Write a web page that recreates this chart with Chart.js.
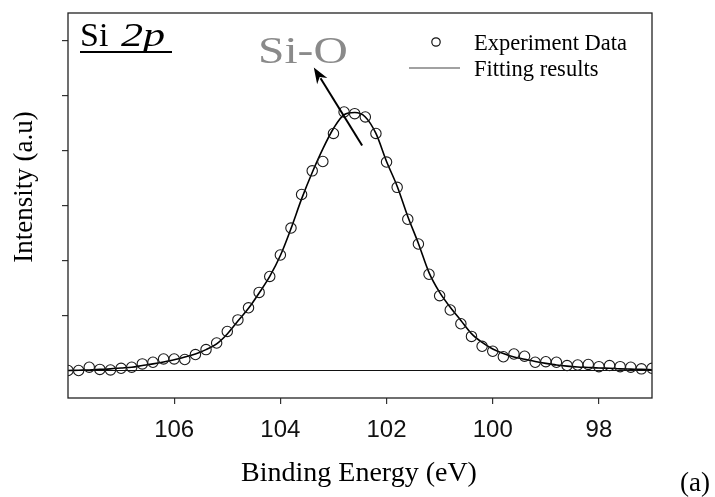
<!DOCTYPE html>
<html>
<head>
<meta charset="utf-8">
<script src="https://cdn.jsdelivr.net/npm/chart.js@4.4.0/dist/chart.umd.min.js"></script>
<style>
  html, body { margin: 0; padding: 0; background: #fff; }
  #wrap { width: 715px; height: 497px; }
</style>
</head>
<body>
<div id="wrap"><canvas id="myChart" width="715" height="497"></canvas></div>
<script>
// binding energy (eV), one sample every 0.2 eV
var energies = [108.0, 107.8, 107.6, 107.4, 107.2, 107.0, 106.8, 106.6, 106.4, 106.2,
    106.0, 105.8, 105.6, 105.4, 105.2, 105.0, 104.8, 104.6, 104.4, 104.2,
    104.0, 103.8, 103.6, 103.4, 103.2, 103.0, 102.8, 102.6, 102.4, 102.2,
    102.0, 101.8, 101.6, 101.4, 101.2, 101.0, 100.8, 100.6, 100.4, 100.2,
    100.0, 99.8, 99.6, 99.4, 99.2, 99.0, 98.8, 98.6, 98.4, 98.2,
    98.0, 97.8, 97.6, 97.4, 97.2, 97.0];

var experiment = [0.00, 0.00, 0.06, 0.02, 0.01, 0.04, 0.06, 0.12, 0.15, 0.21,
    0.21, 0.20, 0.29, 0.38, 0.50, 0.71, 0.92, 1.14, 1.42, 1.71,
    2.10, 2.59, 3.20, 3.63, 3.80, 4.31, 4.70, 4.67, 4.61, 4.31,
    3.79, 3.33, 2.75, 2.30, 1.75, 1.36, 1.10, 0.85, 0.62, 0.44,
    0.35, 0.25, 0.30, 0.26, 0.15, 0.16, 0.15, 0.09, 0.10, 0.11,
    0.07, 0.09, 0.07, 0.06, 0.03, 0.04];

var fitting = [0.00, 0.005, 0.01, 0.02, 0.03, 0.045, 0.06, 0.09, 0.12, 0.155,
    0.195, 0.245, 0.30, 0.38, 0.485, 0.665, 0.90, 1.13, 1.41, 1.71,
    2.09, 2.58, 3.12, 3.60, 4.03, 4.40, 4.65, 4.69, 4.61, 4.31,
    3.80, 3.35, 2.80, 2.31, 1.78, 1.42, 1.15, 0.91, 0.67, 0.51,
    0.39, 0.31, 0.245, 0.205, 0.165, 0.13, 0.10, 0.08, 0.065, 0.055,
    0.045, 0.04, 0.03, 0.025, 0.02, 0.013];

var xTicks = [98, 100, 102, 104, 106];
var yTicks = [1, 2, 3, 4, 5, 6];
var baselineEnds = [108, 97];

// Si-O arrow, in data units (tail -> head)
var arrowFrom = { x: 102.46, y: 4.09 };
var arrowTo = { x: 103.37, y: 5.51 };

var serif = '"Liberation Serif", "Times New Roman", serif';
var sans = '"Liberation Sans", Arial, sans-serif';

function toPoints(xs, ys) {
    return xs.map(function (x, i) { return { x: x, y: ys[i] }; });
}

var decorations = {
    id: 'decorations',
    afterDraw: function (chart) {
        var ctx = chart.ctx;
        var a = chart.chartArea;
        var sx = chart.scales.x, sy = chart.scales.y;
        ctx.save();

        // frame
        ctx.strokeStyle = '#222';
        ctx.lineWidth = 1.3;
        ctx.strokeRect(a.left, a.top, a.right - a.left, a.bottom - a.top);

        ctx.fillStyle = '#000';
        // axis titles
        ctx.font = '28px ' + serif;
        ctx.textAlign = 'center';
        ctx.textBaseline = 'alphabetic';
        ctx.fillText('Binding Energy (eV)', 359, 481);

        ctx.save();
        ctx.translate(25, 187);
        ctx.rotate(-Math.PI / 2);
        ctx.font = '27px ' + serif;
        ctx.textBaseline = 'middle';
        ctx.fillText('Intensity (a.u)', 0, 0);
        ctx.restore();

        ctx.font = '27px ' + serif;
        ctx.fillText('(a)', 695, 491);

        // panel label, underlined
        ctx.textAlign = 'left';
        ctx.font = '34px ' + serif;
        ctx.fillText('Si', 80, 46);
        ctx.save();
        ctx.translate(121, 46);
        ctx.scale(1.3, 1);
        ctx.font = 'italic 34px ' + serif;
        ctx.fillText('2p', 0, 0);
        ctx.restore();
        ctx.fillRect(80, 51, 92, 2);

        // Si-O annotation
        ctx.save();
        ctx.translate(258, 63);
        ctx.scale(1.25, 1);
        ctx.fillStyle = '#8a8a8a';
        ctx.font = '38px ' + serif;
        ctx.fillText('Si-O', 0, 0);
        ctx.restore();

        var x0 = sx.getPixelForValue(arrowFrom.x), y0 = sy.getPixelForValue(arrowFrom.y);
        var x1 = sx.getPixelForValue(arrowTo.x), y1 = sy.getPixelForValue(arrowTo.y);
        var ang = Math.atan2(y1 - y0, x1 - x0);
        var hl = 16, hw = 6;
        ctx.strokeStyle = '#000';
        ctx.lineWidth = 2;
        ctx.beginPath();
        ctx.moveTo(x0, y0);
        ctx.lineTo(x1 - Math.cos(ang) * hl * 0.8, y1 - Math.sin(ang) * hl * 0.8);
        ctx.stroke();
        ctx.beginPath();
        ctx.moveTo(x1, y1);
        ctx.lineTo(x1 - Math.cos(ang) * hl + Math.sin(ang) * hw, y1 - Math.sin(ang) * hl - Math.cos(ang) * hw);
        ctx.lineTo(x1 - Math.cos(ang) * hl * 0.7, y1 - Math.sin(ang) * hl * 0.7);
        ctx.lineTo(x1 - Math.cos(ang) * hl - Math.sin(ang) * hw, y1 - Math.sin(ang) * hl + Math.cos(ang) * hw);
        ctx.closePath();
        ctx.fillStyle = '#000';
        ctx.fill();

        // legend
        ctx.lineWidth = 1.2;
        ctx.strokeStyle = '#111';
        ctx.beginPath();
        ctx.arc(436, 42, 4.2, 0, Math.PI * 2);
        ctx.stroke();
        ctx.strokeStyle = '#444';
        ctx.beginPath();
        ctx.moveTo(409, 68);
        ctx.lineTo(460, 68);
        ctx.stroke();
        ctx.fillStyle = '#000';
        ctx.font = '22.5px ' + serif;
        ctx.fillText('Experiment Data', 474, 50);
        ctx.fillText('Fitting results', 474, 76);

        ctx.restore();
    }
};

var data = {
    datasets: [{
        label: 'baseline',
        data: toPoints(baselineEnds, [0, 0]),
        showLine: true,
        borderColor: '#111',
        borderWidth: 1.2,
        pointRadius: 0,
        order: 3
    }, {
        label: 'Fitting results',
        data: toPoints(energies, fitting),
        showLine: true,
        borderColor: '#000',
        borderWidth: 1.6,
        cubicInterpolationMode: 'monotone',
        pointRadius: 0,
        order: 2
    }, {
        label: 'Experiment Data',
        data: toPoints(energies, experiment),
        showLine: false,
        pointRadius: 5.2,
        pointBorderWidth: 1.1,
        pointBorderColor: '#1a1a1a',
        pointBackgroundColor: 'rgba(0,0,0,0)',
        order: 1
    }]
};

var canvas = document.getElementById('myChart');
var myChart = new Chart(canvas.getContext('2d'), {
    type: 'scatter',
    data: data,
    plugins: [decorations],
    options: {
        responsive: false,
        animation: false,
        layout: { padding: { top: 13, right: 63, left: 0, bottom: 0 } },
        plugins: {
            legend: { display: false },
            tooltip: { enabled: false }
        },
        scales: {
            x: {
                type: 'linear',
                reverse: true,
                min: 97,
                max: 108,
                afterBuildTicks: function (s) {
                    s.ticks = xTicks.map(function (v) { return { value: v }; });
                },
                afterFit: function (s) { s.height = 99; },
                border: { display: false },
                grid: { drawOnChartArea: false, drawTicks: true, tickLength: 6, color: '#333', lineWidth: 1.2 },
                ticks: {
                    font: { family: sans, size: 24 },
                    color: '#111',
                    padding: 12,
                    maxRotation: 0
                }
            },
            y: {
                min: -0.5,
                max: 6.5,
                afterBuildTicks: function (s) {
                    s.ticks = yTicks.map(function (v) { return { value: v }; });
                },
                afterFit: function (s) { s.width = 68; },
                border: { display: false },
                grid: { drawOnChartArea: false, drawTicks: true, tickLength: 6, color: '#333', lineWidth: 1.2 },
                ticks: { display: false }
            }
        }
    }
});
</script>
</body>
</html>
